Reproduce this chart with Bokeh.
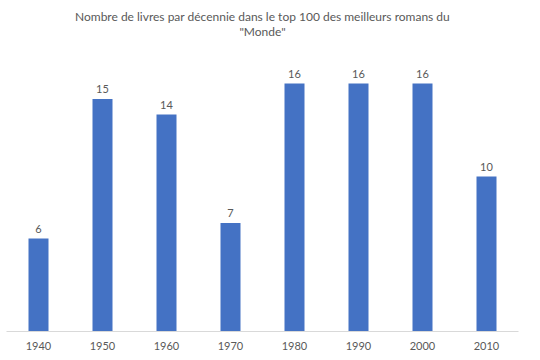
from bokeh.plotting import figure
from bokeh.models import ColumnDataSource, Range1d, FixedTicker, Title
from bokeh.embed import file_html
from bokeh.resources import INLINE
from bokeh.core.properties import value

decades = [1940, 1950, 1960, 1970, 1980, 1990, 2000, 2010]
counts = [6, 15, 14, 7, 16, 16, 16, 10]
labels = [str(c) for c in counts]
title_line1 = "Nombre de livres par décennie dans le top 100 des meilleurs romans du"
title_line2 = "\"Monde\""

FONT = "Lato"
GRAY = "#595959"
BLUE = "#4472C4"

src = ColumnDataSource(dict(x=decades, top=counts, label=labels))

p = figure(width=540, height=360, output_backend="svg", toolbar_location=None,
           x_range=Range1d(1935, 2015), y_range=Range1d(0, 18),
           min_border_left=6, min_border_right=22, min_border_top=52, min_border_bottom=29,
           title=None)

p.vbar(x="x", top="top", bottom=0, width=3.125, source=src, color=BLUE, line_color=None)
p.text(x="x", y="top", text="label", source=src, text_align="center",
       text_baseline="alphabetic", y_offset=-10, text_color=GRAY,
       text_font=value(FONT), text_font_size="11px")

p.add_layout(Title(text=title_line2, align="center", text_font=FONT, text_font_size="12px",
                   text_color=GRAY, text_font_style="normal", standoff=28), "above")
p.add_layout(Title(text=title_line1, align="center", text_font=FONT, text_font_size="12px",
                   text_color=GRAY, text_font_style="normal", standoff=-32), "above")

p.yaxis.visible = False
p.xgrid.visible = False
p.ygrid.visible = False
p.outline_line_color = None
p.xaxis.ticker = FixedTicker(ticks=decades)
p.xaxis.major_tick_line_color = None
p.xaxis.minor_tick_line_color = None
p.xaxis.axis_line_color = "#D9D9D9"
p.xaxis.major_label_text_font = FONT
p.xaxis.major_label_text_font_size = "11px"
p.xaxis.major_label_text_color = GRAY
p.xaxis.major_label_standoff = 4

open("out.html", "w").write(file_html(p, INLINE))
